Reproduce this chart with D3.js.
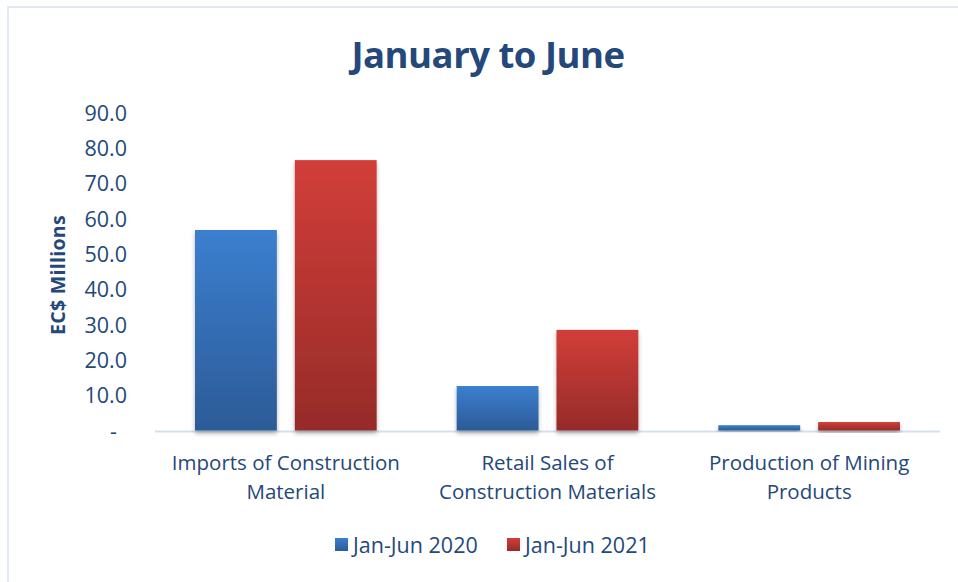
<!DOCTYPE html>
<html>
<head>
<meta charset="utf-8">
<script src="https://cdn.jsdelivr.net/npm/d3@7"></script>
<style>
  html, body { margin: 0; padding: 0; background: #fff; }
  svg { display: block; }
  text { font-family: "Open Sans", Lato, sans-serif; fill: #24487a; }
</style>
</head>
<body>
<svg id="chart" width="958" height="582"></svg>
<script>
// Chart data
const categories = [
  ["Imports of Construction", "Material"],
  ["Retail Sales of", "Construction Materials"],
  ["Production of Mining", "Products"]
];
const seriesNames = ["Jan-Jun 2020", "Jan-Jun 2021"];
const values2020 = [56.8, 12.6, 1.5];
const values2021 = [76.6, 28.5, 2.4];
const yTicks = [0, 10, 20, 30, 40, 50, 60, 70, 80, 90];

const svg = d3.select("#chart");
const W = 958, H = 582;

// Outer frame
svg.append("rect")
  .attr("x", 8).attr("y", 7).attr("width", W).attr("height", H)
  .attr("fill", "#fff").attr("stroke", "#d9e2f0").attr("stroke-width", 1.5);

const defs = svg.append("defs");
function grad(id, top, bottom) {
  const g = defs.append("linearGradient").attr("id", id)
    .attr("x1", 0).attr("y1", 0).attr("x2", 0).attr("y2", 1);
  g.append("stop").attr("offset", "0%").attr("stop-color", top);
  g.append("stop").attr("offset", "100%").attr("stop-color", bottom);
}
grad("gBlue", "#3b7fcf", "#2c5b97");
grad("gRed", "#d23e39", "#962b29");
const fills = ["url(#gBlue)", "url(#gRed)"];

const shadow = defs.append("filter").attr("id", "shadow")
  .attr("x", "-10%").attr("y", "-10%").attr("width", "120%").attr("height", "130%");
shadow.append("feDropShadow").attr("dx", 0).attr("dy", 3)
  .attr("stdDeviation", 2).attr("flood-color", "#000").attr("flood-opacity", 0.3);

// Scales
const plotLeft = 155, plotRight = 940;
const y = d3.scaleLinear().domain([0, 90]).range([430.5, 112.8]);
const x0 = d3.scaleBand().domain(d3.range(categories.length)).range([plotLeft, plotRight]);
const x1 = d3.scaleBand().domain([0, 1]).range([40, x0.bandwidth() - 40]).paddingInner(0.18);

// Title
svg.append("text")
  .attr("x", 488).attr("y", 68)
  .attr("text-anchor", "middle")
  .style("font-size", "36.5px").style("font-weight", "700")
  .style("letter-spacing", "-0.5px")
  .text("January to June");

// Y axis title
svg.append("text")
  .attr("transform", "translate(65,275) rotate(-90)")
  .attr("text-anchor", "middle")
  .style("font-size", "19.5px").style("font-weight", "700")
  .style("letter-spacing", "0.3px")
  .text("EC$ Millions");

// Y axis ticks
const yAxis = d3.axisLeft(y).tickValues(yTicks).tickSize(0).tickPadding(0)
  .tickFormat(d => d === 0 ? "-" : d3.format(".1f")(d));
const ya = svg.append("g").attr("transform", "translate(127,0)").call(yAxis);
ya.select(".domain").remove();
ya.selectAll("text")
  .style("font-size", "21.5px")
  .style("font-family", "\"Open Sans\", Lato, sans-serif")
  .attr("fill", "#24487a")
  .attr("dy", "0.35em");
ya.selectAll(".tick").filter(d => d === 0).select("text").attr("x", -10);

// Baseline
svg.append("line")
  .attr("x1", plotLeft).attr("x2", plotRight)
  .attr("y1", y(0) + 1).attr("y2", y(0) + 1)
  .attr("stroke", "#d6e1f0").attr("stroke-width", 2);

// Bars
const seriesValues = [values2020, values2021];
const groups = svg.append("g").selectAll("g")
  .data(categories.map((c, i) => i))
  .join("g")
  .attr("transform", i => `translate(${x0(i)},0)`);
groups.selectAll("rect")
  .data(i => seriesValues.map((vals, s) => ({ s, v: vals[i] })))
  .join("rect")
  .attr("x", d => x1(d.s))
  .attr("width", x1.bandwidth())
  .attr("y", d => y(d.v))
  .attr("height", d => y(0) - y(d.v))
  .attr("fill", d => fills[d.s])
  .attr("filter", "url(#shadow)");

// Category labels
categories.forEach((lines, i) => {
  const cx = x0(i) + x0.bandwidth() / 2;
  const t = svg.append("text")
    .attr("x", cx)
    .attr("y", 470)
    .attr("text-anchor", "middle")
    .style("font-size", "20.5px");
  lines.forEach((ln, k) => {
    t.append("tspan").attr("x", cx)
      .attr("dy", k === 0 ? 0 : 29).text(ln);
  });
});

// Legend
const legendX = [335, 507];
seriesNames.forEach((name, s) => {
  svg.append("rect")
    .attr("x", legendX[s]).attr("y", 538)
    .attr("width", 13).attr("height", 13)
    .attr("fill", fills[s]);
  svg.append("text")
    .attr("x", legendX[s] + 18).attr("y", 552.5)
    .style("font-size", "21.5px")
    .text(name);
});
</script>
</body>
</html>
